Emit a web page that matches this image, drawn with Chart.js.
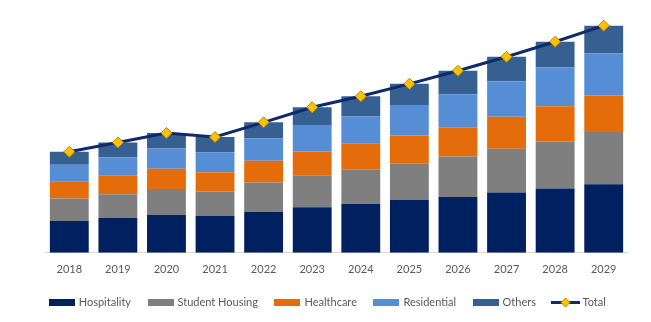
<!DOCTYPE html>
<html>
<head>
<meta charset="utf-8">
<script src="https://cdn.jsdelivr.net/npm/chart.js@4"></script>
<style>
html,body{margin:0;padding:0;background:#fff;}
#wrap{width:651px;height:322px;}
</style>
</head>
<body>
<div id="wrap"><canvas id="segmentChart" width="651" height="322"></canvas></div>
<script>
/* ===============================
        Market by Segment Data
================================ */

const years = ["2018","2019","2020","2021","2022","2023","2024","2025","2026","2027","2028","2029"];

const hospitality    = [31.7, 35.0, 37.7, 36.7, 41.0, 45.4, 48.7, 52.7, 55.7, 60.0, 64.0, 68.4];
const studentHousing = [22.3, 23.4, 26.0, 24.3, 29.0, 32.0, 34.3, 36.0, 40.3, 43.7, 47.0, 52.0];
const healthcare     = [16.7, 18.3, 20.0, 19.4, 21.7, 23.6, 25.7, 28.3, 28.7, 32.0, 35.0, 36.3];
const residential    = [17.0, 18.3, 20.3, 19.6, 22.3, 26.4, 27.3, 30.4, 33.3, 35.3, 38.7, 42.0];
const others         = [13.0, 15.0, 15.4, 15.4, 16.0, 17.6, 20.0, 21.0, 23.4, 24.4, 25.7, 27.7];
const total          = [100.7, 110.0, 119.4, 115.4, 130.0, 145.0, 156.0, 168.4, 181.4, 195.4, 210.4, 226.4];


document.addEventListener("DOMContentLoaded",()=>{

const textColor = "#595959";
const fontFamily = "Lato, 'Liberation Sans', sans-serif";

const colors = {
  hospitality:"#002060",
  student:"#7F7F7F",
  health:"#E46C0A",
  resid:"#558ED5",
  others:"#376092",
  line:"#0E2A6A",
  marker:"#FFC000"
};


/* legend icons: flat swatch for bars, line + diamond for total */

function swatch(color){
  const c = document.createElement("canvas");
  c.width = 26; c.height = 7;
  const g = c.getContext("2d");
  g.fillStyle = color;
  g.fillRect(0,0,26,7);
  return c;
}

function lineIcon(){
  const c = document.createElement("canvas");
  c.width = 29; c.height = 11;
  const g = c.getContext("2d");
  g.strokeStyle = colors.line;
  g.lineWidth = 3;
  g.beginPath(); g.moveTo(0,5.5); g.lineTo(29,5.5); g.stroke();
  g.fillStyle = colors.marker;
  g.strokeStyle = "#B8860B";
  g.lineWidth = 1;
  g.beginPath();
  g.moveTo(14.5,1); g.lineTo(19,5.5); g.lineTo(14.5,10); g.lineTo(10,5.5); g.closePath();
  g.fill(); g.stroke();
  return c;
}

const icons = [
  lineIcon(),
  swatch(colors.hospitality),
  swatch(colors.student),
  swatch(colors.health),
  swatch(colors.resid),
  swatch(colors.others)
];


function barSet(label, data, color){
  return {
    type:"bar",
    label:label,
    data:data,
    backgroundColor:color,
    borderWidth:0,
    stack:"segments",
    categoryPercentage:1,
    barPercentage:0.8
  };
}


const canvas = document.getElementById("segmentChart");

new Chart(canvas,{

  type:"bar",

  data:{
    labels:years,
    datasets:[
      {
        type:"line",
        label:"Total",
        data:total,
        stack:"total",
        borderColor:colors.line,
        borderWidth:3,
        pointStyle:"rectRot",
        pointRadius:5.5,
        pointBackgroundColor:colors.marker,
        pointBorderColor:"#B8860B",
        pointBorderWidth:1,
        tension:0,
        fill:false
      },
      barSet("Hospitality", hospitality, colors.hospitality),
      barSet("Student Housing", studentHousing, colors.student),
      barSet("Healthcare", healthcare, colors.health),
      barSet("Residential", residential, colors.resid),
      barSet("Others", others, colors.others)
    ]
  },

  options:{
    responsive:false,
    animation:false,
    layout:{
      padding:{left:28, right:23, top:12, bottom:4}
    },
    plugins:{
      tooltip:{enabled:false},
      legend:{
        position:"bottom",
        align:"center",
        labels:{
          color:textColor,
          font:{family:fontFamily, size:11},
          usePointStyle:true,
          pointStyleWidth:23,
          boxHeight:7,
          padding:18,
          generateLabels:(chart)=>{
            const items = Chart.defaults.plugins.legend.labels.generateLabels(chart);
            items.forEach(it=>{ it.pointStyle = icons[it.datasetIndex]; });
            // total goes last in the legend
            return items.slice(1).concat(items.slice(0,1));
          }
        }
      }
    },
    scales:{
      x:{
        stacked:true,
        grid:{display:false},
        border:{color:"#D9D9D9", width:1},
        ticks:{
          color:textColor,
          font:{family:fontFamily, size:11},
          padding:2.5
        }
      },
      y:{
        stacked:true,
        min:0,
        max:240,
        grid:{display:false},
        border:{display:false},
        ticks:{display:false},
        afterFit:(scale)=>{ scale.width = 17; }
      }
    }
  }

});

});
</script>
</body>
</html>
